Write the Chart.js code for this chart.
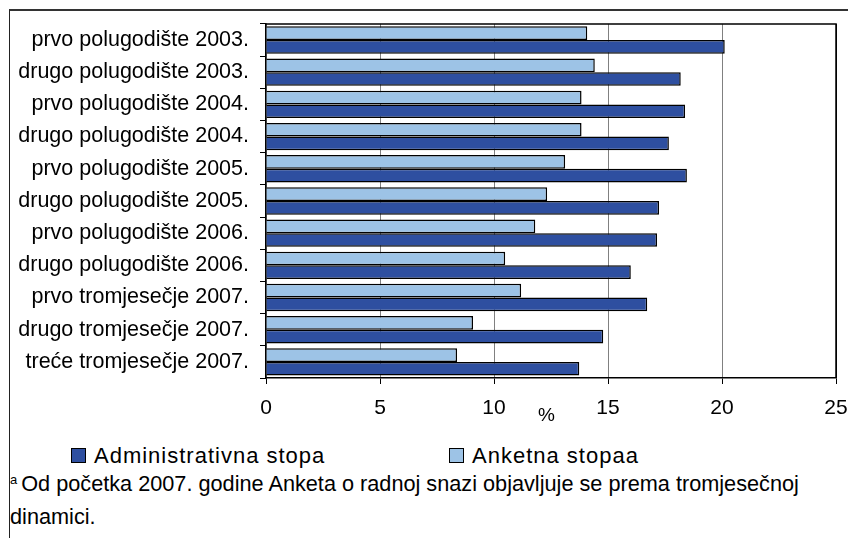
<!DOCTYPE html>
<html>
<head>
<meta charset="utf-8">
<script src="https://cdn.jsdelivr.net/npm/chart.js@4/dist/chart.umd.min.js"></script>
<style>
  body { margin: 0; background: #fff; font-family: "Liberation Sans", Arial, sans-serif; }
  #wrap { position: relative; width: 848px; height: 538px; overflow: hidden; }
  #frame { position: absolute; left: 9px; top: 9px; right: -5px; bottom: -5px;
           border-left: 1px solid #222; border-top: 2px solid #333; }
  #box { position: absolute; left: 0; top: 0; width: 848px; height: 436px; }
  #legend { position: absolute; top: 443px; left: 0; width: 848px; height: 26px; font-size: 22px; letter-spacing: 1px; }
  #legend .item { position: absolute; top: 0; white-space: nowrap; line-height: 26px; }
  #legend .sw { display: inline-block; width: 13px; height: 13px; border: 1px solid #000;
                margin-right: 8px; vertical-align: 0px; }
  #note { position: absolute; left: 10px; top: 463px; width: 836px; font-size: 21.7px; line-height: 33px; color: #000; }
  #note sup { font-size: 13px; vertical-align: 7px; margin-right: 4px; }
</style>
</head>
<body>
<div id="wrap">
  <div id="frame"></div>
  <div id="box"><canvas id="charts"></canvas></div>
  <div id="legend"></div>
  <div id="note"><sup>a</sup>Od početka 2007. godine Anketa o radnoj snazi objavljuje se prema tromjesečnoj<br>dinamici.</div>
</div>
<script>
var categories = [
  'prvo polugodište 2003.', 'drugo polugodište 2003.',
  'prvo polugodište 2004.', 'drugo polugodište 2004.',
  'prvo polugodište 2005.', 'drugo polugodište 2005.',
  'prvo polugodište 2006.', 'drugo polugodište 2006.',
  'prvo tromjesečje 2007.', 'drugo tromjesečje 2007.', 'treće tromjesečje 2007.'
];
var administrativna = [20.12, 18.19, 18.38, 17.67, 18.46, 17.24, 17.15, 16.0, 16.72, 14.79, 13.74];
var anketna = [14.09, 14.42, 13.84, 13.84, 13.12, 12.33, 11.81, 10.49, 11.19, 9.08, 8.38];
var xMin = 0, xMax = 25, xStep = 5;
var axisTitle = '%';
var axisTitleAt = 12.3; // the original puts it between 10 and 15, not centred

var FONT = '"Liberation Sans", Arial, sans-serif';

// black box edge on top and right of the plot
var plotFrame = {
  id: 'plotFrame',
  afterDraw: function(chart) {
    var a = chart.chartArea, c = chart.ctx;
    c.save();
    c.strokeStyle = '#000';
    c.lineWidth = 1.5;
    c.beginPath();
    c.moveTo(a.left, a.top);
    c.lineTo(a.right, a.top);
    c.lineTo(a.right, a.bottom);
    c.stroke();
    c.restore();
  }
};

var percentLabel = {
  id: 'percentLabel',
  afterDraw: function(chart) {
    var x = chart.scales.x, c = chart.ctx;
    c.save();
    c.font = '19px ' + FONT;
    c.fillStyle = '#000';
    c.textAlign = 'center';
    c.textBaseline = 'middle';
    c.fillText(axisTitle, x.getPixelForValue(axisTitleAt), x.top + 38);
    c.restore();
  }
};

var ctx = document.getElementById('charts');
var chart = new Chart(ctx, {
  type: 'bar',
  data: {
    labels: categories,
    datasets: [{
      label: 'Anketna stopaa',
      backgroundColor: '#9DC3E6',
      borderColor: '#000',
      borderWidth: 1.5,
      data: anketna
    }, {
      label: 'Administrativna stopa',
      backgroundColor: '#2E4FA0',
      borderColor: '#000',
      borderWidth: 1.5,
      data: administrativna
    }]
  },
  options: {
    indexAxis: 'y',
    responsive: true,
    maintainAspectRatio: false,
    animation: false,
    categoryPercentage: 0.85,
    barPercentage: 1,
    layout: { padding: { top: 17, right: 0, bottom: 14, left: 0 } },
    plugins: {
      legend: { display: false },
      tooltip: { enabled: false }
    },
    scales: {
      x: {
        min: xMin,
        max: xMax,
        afterFit: function(scale) {
          scale.height = 44;
          scale.paddingLeft = 0;
          scale.paddingRight = 12; // "25" may run to the page edge like in the original
        },
        ticks: { stepSize: xStep, color: '#000', padding: 12, maxRotation: 0, font: { family: FONT, size: 21 } },
        grid: {
          color: function(c) { return c.tick && c.tick.value === xMax ? '#000' : '#808080'; },
          tickColor: '#000',
          tickLength: 6,
          lineWidth: 1
        },
        border: { color: '#000', width: 1.5 }
      },
      y: {
        afterFit: function(scale) { scale.width = 266; },
        ticks: { color: '#000', padding: 11, font: { family: FONT, size: 21.5 } },
        grid: { drawOnChartArea: false, tickColor: '#000', tickLength: 6 },
        border: { color: '#000', width: 1.5 }
      }
    }
  },
  plugins: [plotFrame, percentLabel]
});

// legend written out as html so the two items can sit where the original has them
var legendPos = { 'Administrativna stopa': 71, 'Anketna stopaa': 449 };
var legend = document.getElementById('legend');
chart.data.datasets.slice().reverse().forEach(function(ds) {
  var item = document.createElement('div');
  item.className = 'item';
  item.style.left = legendPos[ds.label] + 'px';
  var sw = document.createElement('span');
  sw.className = 'sw';
  sw.style.background = ds.backgroundColor;
  item.appendChild(sw);
  item.appendChild(document.createTextNode(ds.label));
  legend.appendChild(item);
});
</script>
</body>
</html>
